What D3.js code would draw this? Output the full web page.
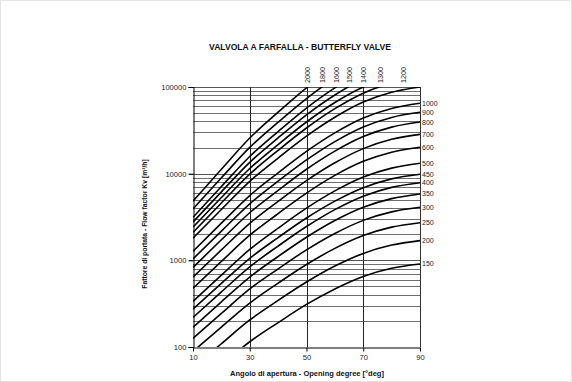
<!DOCTYPE html>
<html>
<head>
<meta charset="utf-8">
<script src="https://cdn.jsdelivr.net/npm/d3@7"></script>
<style>
  body { margin: 0; background: #fff; }
  svg { display: block; }
</style>
</head>
<body>
<svg id="chart" width="572" height="382"></svg>
<script>
// opening angle (deg) at which each Kv value is read
const angles = [10, 20, 30, 40, 50, 60, 70, 80, 90];

// Kv [m3/h] per valve size (DN)
const kvDN150 = [33, 62, 115, 191, 310, 468, 652, 809, 908];
const kvDN200 = [58, 109, 205, 345, 562, 859, 1202, 1500, 1690];
const kvDN250 = [89, 170, 321, 545, 895, 1374, 1932, 2415, 2720];
const kvDN300 = [126, 244, 467, 796, 1321, 2042, 2891, 3622, 4093];
const kvDN350 = [169, 332, 641, 1107, 1845, 2877, 4093, 5152, 5834];
const kvDN400 = [219, 432, 841, 1462, 2455, 3846, 5495, 6950, 7870];
const kvDN450 = [274, 542, 1054, 1832, 3076, 4819, 6887, 8710, 9840];
const kvDN500 = [336, 675, 1334, 2350, 4000, 6324, 9141, 11590, 13180];
const kvDN600 = [476, 971, 1950, 3467, 5970, 9550, 13870, 17700, 20180];
const kvDN700 = [641, 1318, 2667, 4786, 8300, 13340, 19450, 24890, 28440];
const kvDN800 = [828, 1726, 3540, 6412, 11250, 18200, 26790, 34430, 39450];
const kvDN900 = [1038, 2173, 4487, 8185, 14390, 23440, 34590, 44570, 51050];
const kvDN1000 = [1271, 2685, 5585, 10230, 18110, 29580, 43850, 56620, 65010];
const kvDN1200 = [1803, 3864, 8166, 15140, 27100, 44770, 66990, 86900, 100000];
const kvDN1300 = [2104, 4592, 9863, 18580, 33650, 56230, 84920, 110900, 127900];
const kvDN1400 = [2421, 5309, 11460, 21680, 39450, 66220, 100000, 130900, 151400];
const kvDN1500 = [2767, 6166, 13520, 25880, 47750, 80910, 123600, 162600, 188400];
const kvDN1600 = [3133, 7096, 15780, 30620, 57150, 97720, 150300, 199100, 231200];
const kvDN1800 = [3926, 8954, 20090, 39260, 73620, 126800, 194000, 256000, 293800];
const kvDN2000 = [4808, 11220, 25760, 51170, 97720, 170600, 266700, 356500, 416900];

const sizeLabels = ["150", "200", "250", "300", "350", "400", "450", "500", "600", "700",
  "800", "900", "1000", "1200", "1300", "1400", "1500", "1600", "1800", "2000"];
const seriesValues = [kvDN150, kvDN200, kvDN250, kvDN300, kvDN350, kvDN400, kvDN450, kvDN500,
  kvDN600, kvDN700, kvDN800, kvDN900, kvDN1000, kvDN1200, kvDN1300, kvDN1400, kvDN1500,
  kvDN1600, kvDN1800, kvDN2000];

const xTicks = [10, 30, 50, 70, 90];
const yTicks = [100, 1000, 10000, 100000];

const title = "VALVOLA A FARFALLA - BUTTERFLY VALVE";
const xTitle = "Angolo di apertura - Opening degree  [°deg]";
const yTitle = "Fattore di portata - Flow factor Kv  [m³/h]";

const series = sizeLabels.map((label, i) => ({
  label,
  points: angles.map((a, j) => [a, seriesValues[i][j]])
}));

const svg = d3.select("#chart");
const mLeft = 193, mRight = 420, mTop = 87, mBottom = 347;

const x = d3.scaleLinear().domain([10, 90]).range([mLeft, mRight]);
const y = d3.scaleLog().domain([100, 100000]).range([mBottom, mTop]);

svg.append("rect")
  .attr("x", 0.5).attr("y", 0.5)
  .attr("width", 571).attr("height", 381)
  .attr("fill", "none").attr("stroke", "#e4e4e4");

// horizontal log grid
const minor = [];
for (let d = 100; d < 100000; d *= 10) {
  for (let k = 2; k <= 9; k++) minor.push(d * k);
}
svg.append("g")
  .selectAll("line")
  .data(minor)
  .join("line")
  .attr("x1", mLeft).attr("x2", mRight)
  .attr("y1", (d) => Math.round(y(d)) + 0.5)
  .attr("y2", (d) => Math.round(y(d)) + 0.5)
  .attr("stroke", "#6e6e6e")
  .attr("stroke-width", 1);

svg.append("g")
  .selectAll("line")
  .data(yTicks.slice(1))
  .join("line")
  .attr("x1", mLeft - 4).attr("x2", mRight)
  .attr("y1", (d) => Math.round(y(d)) + 0.5)
  .attr("y2", (d) => Math.round(y(d)) + 0.5)
  .attr("stroke", "#555")
  .attr("stroke-width", 1);

// vertical grid
svg.append("g")
  .selectAll("line")
  .data(xTicks.slice(1))
  .join("line")
  .attr("x1", (d) => Math.round(x(d)) + 0.5)
  .attr("x2", (d) => Math.round(x(d)) + 0.5)
  .attr("y1", mTop).attr("y2", mBottom)
  .attr("stroke", "#222")
  .attr("stroke-width", 1);

// curves
svg.append("defs").append("clipPath").attr("id", "plot")
  .append("rect")
  .attr("x", mLeft).attr("y", mTop)
  .attr("width", mRight - mLeft).attr("height", mBottom - mTop);

const line = d3.line()
  .x((d) => x(d[0]))
  .y((d) => y(d[1]))
  .curve(d3.curveMonotoneX);

svg.append("g")
  .attr("clip-path", "url(#plot)")
  .selectAll("path")
  .data(series)
  .join("path")
  .attr("d", (d) => line(d.points))
  .attr("fill", "none")
  .attr("stroke", "#000")
  .attr("stroke-width", 1.6);

// axes
const yAxis = d3.axisLeft(y).tickValues(yTicks).tickFormat(d3.format("d")).tickSize(5);
svg.append("g")
  .attr("transform", `translate(${mLeft + 0.5},0)`)
  .call(yAxis)
  .call((g) => g.select(".domain").attr("stroke", "#000"))
  .call((g) => g.selectAll("text")
    .attr("font-family", "Liberation Sans, Arial, sans-serif")
    .attr("font-size", 7.6).attr("fill", "#222").attr("x", -7));

const xAxis = d3.axisBottom(x).tickValues(xTicks).tickSize(4).tickSizeOuter(0);
svg.append("g")
  .attr("transform", `translate(0,${mBottom + 0.5})`)
  .call(xAxis)
  .call((g) => g.select(".domain").attr("stroke", "#000"))
  .call((g) => g.selectAll("text")
    .attr("font-family", "Liberation Sans, Arial, sans-serif")
    .attr("font-size", 7.6).attr("fill", "#222").attr("y", 7));

svg.append("line")
  .attr("x1", mRight + 0.5).attr("x2", mRight + 0.5)
  .attr("y1", mTop).attr("y2", mBottom)
  .attr("stroke", "#333");

// size labels: at curve end on the right, or where the curve leaves the top
const ymax = y.domain()[1];
series.forEach((s) => {
  const last = s.points[s.points.length - 1];
  if (last[1] < ymax * 0.99) {
    svg.append("text")
      .attr("x", mRight + 2)
      .attr("y", y(last[1]) + 2.5)
      .attr("font-family", "Liberation Sans, Arial, sans-serif")
      .attr("font-size", 7)
      .attr("fill", "#222")
      .text(s.label);
  } else {
    let ang = 90;
    for (let j = 1; j < s.points.length; j++) {
      const [a0, v0] = s.points[j - 1], [a1, v1] = s.points[j];
      if (v0 < ymax && v1 >= ymax) {
        const t = (Math.log(ymax) - Math.log(v0)) / (Math.log(v1) - Math.log(v0));
        ang = a0 + t * (a1 - a0);
        break;
      }
    }
    const cx = Math.min(x(ang), mRight - 17);
    svg.append("text")
      .attr("transform", `translate(${cx + 2.5},${mTop - 4}) rotate(-90)`)
      .attr("font-family", "Liberation Sans Narrow, Liberation Sans, Arial, sans-serif")
      .attr("font-stretch", "condensed")
      .attr("font-size", 7.2)
      .attr("fill", "#222")
      .text(s.label);
  }
});

// titles
svg.append("text")
  .attr("x", 300).attr("y", 50)
  .attr("text-anchor", "middle")
  .attr("font-family", "Liberation Sans, Arial, sans-serif")
  .attr("font-weight", "bold")
  .attr("font-size", 8.6)
  .attr("fill", "#111")
  .text(title);

svg.append("text")
  .attr("x", 307).attr("y", 376)
  .attr("text-anchor", "middle")
  .attr("font-family", "Liberation Sans, Arial, sans-serif")
  .attr("font-weight", "bold")
  .attr("font-size", 7.5)
  .attr("fill", "#111")
  .text(xTitle);

svg.append("text")
  .attr("transform", `translate(147,224) rotate(-90)`)
  .attr("text-anchor", "middle")
  .attr("font-family", "Liberation Sans Narrow, Liberation Sans, Arial, sans-serif")
  .attr("font-stretch", "condensed")
  .attr("font-weight", "bold")
  .attr("font-size", 6.8)
  .attr("fill", "#111")
  .text(yTitle);
</script>
</body>
</html>
